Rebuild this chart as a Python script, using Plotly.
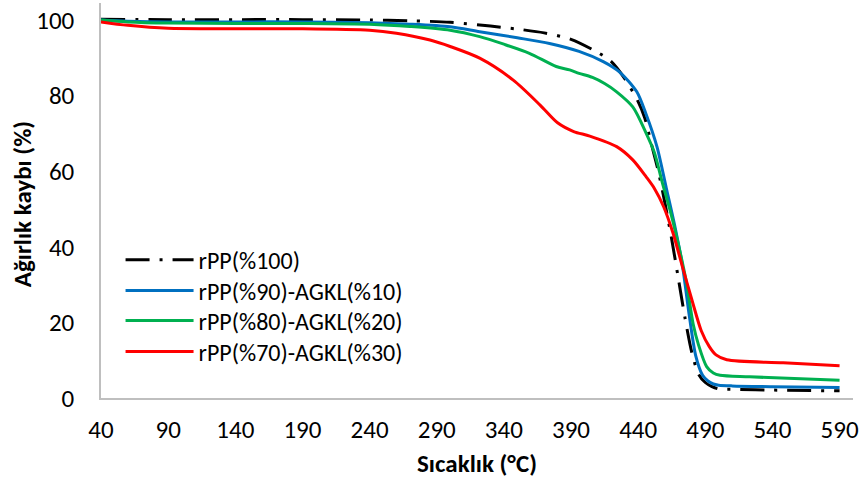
import plotly.graph_objects as go

# Thermogravimetric curves: residual mass (%) vs temperature (°C)
t_rpp100 = [40, 90, 140, 190, 240, 270, 300, 330, 350, 370, 390, 410, 420, 430, 440,
            445, 450, 455, 460, 465, 470, 475, 480, 485, 490, 495, 500, 510, 540, 590]
w_rpp100 = [100.2, 100.1, 100.1, 100.1, 100.0, 99.8, 99.4, 98.4, 97.6, 96.6, 94.9, 91.4, 89.0, 84.5, 78.4,
            74.0, 67.0, 60.0, 51.5, 42.0, 31.5, 21.0, 12.0, 6.3, 4.1, 3.0, 2.4, 2.3, 2.1, 1.9]

t_agkl10 = [40, 60, 90, 140, 190, 240, 270, 300, 322, 350, 374, 396, 414, 426, 439,
            446, 454, 461, 467, 473, 478, 483, 488, 492, 496, 500, 510, 540, 590]
w_agkl10 = [100.0, 99.7, 99.5, 99.5, 99.5, 99.3, 98.9, 98.2, 96.9, 95.3, 93.8, 91.7, 89.0, 86.3, 81.0,
            75.0, 66.5, 55.5, 46.0, 35.0, 22.0, 11.0, 6.0, 4.5, 3.7, 3.4, 3.2, 3.0, 2.8]

t_agkl20 = [40, 60, 90, 140, 190, 240, 270, 300, 322, 340, 359, 379, 389, 396, 406,
            415, 424, 436, 446, 452, 458, 465, 471, 476, 481, 485, 491, 496, 501, 523, 590]
w_agkl20 = [100.0, 99.5, 99.2, 99.1, 99.1, 98.9, 98.3, 97.3, 95.6, 93.6, 91.2, 87.7, 86.8, 85.9, 84.8,
            83.2, 81.0, 77.0, 70.0, 65.0, 57.0, 48.0, 39.0, 30.5, 19.5, 14.0, 8.3, 6.6, 6.0, 5.6, 4.7]

t_agkl30 = [40, 60, 90, 140, 190, 240, 260, 285, 300, 322, 347, 367, 380, 392, 404,
            424, 436, 446, 452, 459, 466, 473, 480, 487, 493, 498, 506, 548, 590]
w_agkl30 = [99.5, 98.6, 97.8, 97.7, 97.7, 97.3, 96.5, 94.7, 93.0, 89.9, 84.1, 77.5, 72.8, 70.5, 69.3,
            66.5, 63.0, 58.5, 55.5, 50.6, 43.6, 34.7, 26.0, 17.8, 13.6, 11.4, 10.1, 9.3, 8.5]

x_ticks = [40, 90, 140, 190, 240, 290, 340, 390, 440, 490, 540, 590]
y_ticks = [0, 20, 40, 60, 80, 100]

FONT = "Carlito, Calibri, Lato, sans-serif"

series = [
    ("rPP(%100)", t_rpp100, w_rpp100, "#000000", "24px,10px,3px,10px"),
    ("rPP(%90)-AGKL(%10)", t_agkl10, w_agkl10, "#0070C0", "solid"),
    ("rPP(%80)-AGKL(%20)", t_agkl20, w_agkl20, "#00B050", "solid"),
    ("rPP(%70)-AGKL(%30)", t_agkl30, w_agkl30, "#FF0000", "solid"),
]

# one legend box per entry so the rows sit on an even, tight pitch
legend_rows = [0.349, 0.271, 0.195, 0.117]
legend_ids = ["legend", "legend2", "legend3", "legend4"]

fig = go.Figure()
for (name, t, w, color, dash), lid in zip(series, legend_ids):
    fig.add_trace(go.Scatter(
        x=t, y=w, name=name, mode="lines", legend=lid,
        line=dict(color=color, width=3, dash=dash, shape="spline", smoothing=0.8),
    ))

legend_style = dict(
    x=0.026, xanchor="left", yanchor="middle",
    bgcolor="rgba(0,0,0,0)", itemwidth=68,
    font=dict(family=FONT, size=24, color="#000000"),
)
legend_layout = {lid: dict(y=yy, **legend_style) for lid, yy in zip(legend_ids, legend_rows)}

fig.update_layout(
    width=863, height=484,
    margin=dict(l=101, r=10, t=3, b=86),
    paper_bgcolor="white", plot_bgcolor="white",
    font=dict(family=FONT, size=25, color="#000000"),
    showlegend=True,
    xaxis=dict(
        range=[40, 600], tickvals=x_ticks, ticktext=[str(v) for v in x_ticks],
        showline=True, linecolor="#BFBFBF", linewidth=1.5, showgrid=False, zeroline=False,
        ticks="", ticklabelstandoff=8,
        title=dict(text="<b>Sıcaklık (°C)</b>", font=dict(family=FONT, size=25), standoff=11),
    ),
    yaxis=dict(
        range=[0, 104.5], tickvals=y_ticks, ticktext=[str(v) for v in y_ticks],
        showline=True, linecolor="#BFBFBF", linewidth=1.5, showgrid=False, zeroline=False,
        ticks="", ticklabelstandoff=20,
    ),
    annotations=[dict(
        text="<b>Ağırlık kaybı (%)</b>", textangle=-90,
        xref="paper", yref="paper", x=-0.104, y=0.49, xanchor="center", yanchor="middle",
        showarrow=False, font=dict(family=FONT, size=25, color="#000000"),
    )],
    **legend_layout,
)

fig.write_html("out.html")
